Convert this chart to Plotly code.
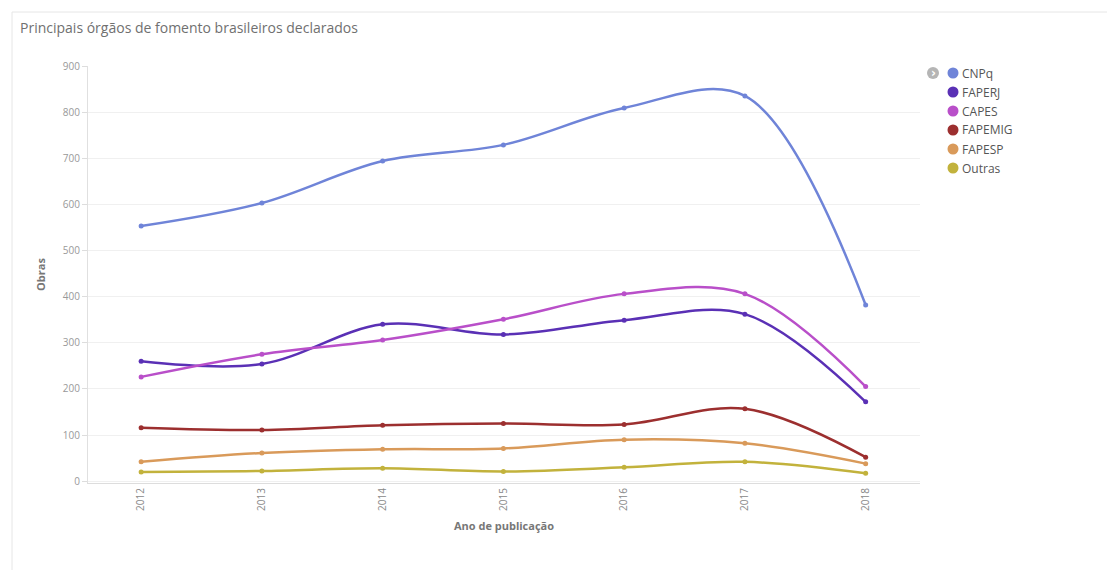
import plotly.graph_objects as go

years = ["2012", "2013", "2014", "2015", "2016", "2017", "2018"]
cnpq = [553, 603, 694, 729, 809, 835, 382]
faperj = [260, 254, 340, 318, 349, 362, 172]
capes = [226, 275, 306, 351, 406, 406, 205]
fapemig = [116, 111, 121, 125, 123, 157, 52]
fapesp = [42, 61, 69, 71, 90, 82, 38]
outras = [20, 22, 28, 21, 30, 42, 17]

series_names = ["CNPq", "FAPERJ", "CAPES", "FAPEMIG", "FAPESP", "Outras"]
series_values = [cnpq, faperj, capes, fapemig, fapesp, outras]
colors = ["#6f84d8", "#5a30b5", "#b94fc9", "#9c2f2f", "#d99a5a", "#c2b23c"]

xidx = list(range(len(years)))

fig = go.Figure()
for name, vals, col in zip(series_names, series_values, colors):
    fig.add_trace(go.Scatter(
        x=xidx, y=vals, name=name, mode="lines+markers",
        line=dict(color=col, width=2.5, shape="spline", smoothing=1),
        marker=dict(color=col, size=5),
        showlegend=False, hoverinfo="x+y+name",
    ))

W, H = 1107, 570
L, R, T, B = 88, 187, 66, 87
PW, PH = W - L - R, H - T - B


def px(x):
    return (x - L) / PW


def py(y):
    return 1 - (y - T) / PH


fig.update_layout(
    width=W, height=H,
    margin=dict(l=L, r=R, t=T, b=B),
    paper_bgcolor="white", plot_bgcolor="white",
    font=dict(family="Open Sans", color="#777"),
    showlegend=False,
    title=dict(text="Principais órgãos de fomento brasileiros declarados",
               x=20 / W, xanchor="left", y=1 - 28 / H, yanchor="middle",
               font=dict(size=14, color="#707070", family="Open Sans")),
    xaxis=dict(range=[-0.44, 6.45], tickmode="array", tickvals=xidx, ticktext=years,
               tickangle=-90, tickfont=dict(size=10, color="#888"),
               showgrid=False, zeroline=False, showline=True, linecolor="#ddd", linewidth=1,
               ticks="", title=dict(text="<b>Ano de publicação</b>", font=dict(size=11, color="#777"),
                                    standoff=12)),
    yaxis=dict(range=[-4, 900], tickvals=[0, 100, 200, 300, 400, 500, 600, 700, 800, 900],
               tickfont=dict(size=10, color="#999"), showgrid=True, gridcolor="#f0f0f0",
               zeroline=False, showline=True, linecolor="#e0e0e0", linewidth=1,
               ticks="outside", ticklen=5, tickcolor="#ddd",
               title=dict(text="<b>Obras</b>", font=dict(size=11, color="#777"), standoff=14)),
)

# panel border
fig.add_shape(type="rect", xref="paper", yref="paper",
              x0=px(12), x1=px(W + 20), y0=py(H + 20), y1=py(12),
              line=dict(color="#e6e6e6", width=1), fillcolor="rgba(0,0,0,0)", layer="below")

# legend (circle + label per series)
for i, (name, col) in enumerate(zip(series_names, colors)):
    cy = 73 + 19 * i
    fig.add_shape(type="circle", xref="paper", yref="paper",
                  x0=px(947.5), x1=px(958.5), y0=py(cy + 5.5), y1=py(cy - 5.5),
                  line=dict(width=0), fillcolor=col)
    fig.add_annotation(xref="paper", yref="paper", x=px(960), y=py(cy), text=name,
                       showarrow=False, xanchor="left", yanchor="middle",
                       font=dict(size=12, color="#555", family="Open Sans"))

# legend toggle icon
fig.add_shape(type="circle", xref="paper", yref="paper",
              x0=px(927), x1=px(939), y0=py(79), y1=py(67),
              line=dict(width=0), fillcolor="#b5b5b5")
fig.add_annotation(xref="paper", yref="paper", x=px(933.5), y=py(72.5), text="<b>›</b>",
                   showarrow=False, font=dict(size=12, color="white", family="DejaVu Sans"),
                   xanchor="center", yanchor="middle")

fig.write_html("out.html")
